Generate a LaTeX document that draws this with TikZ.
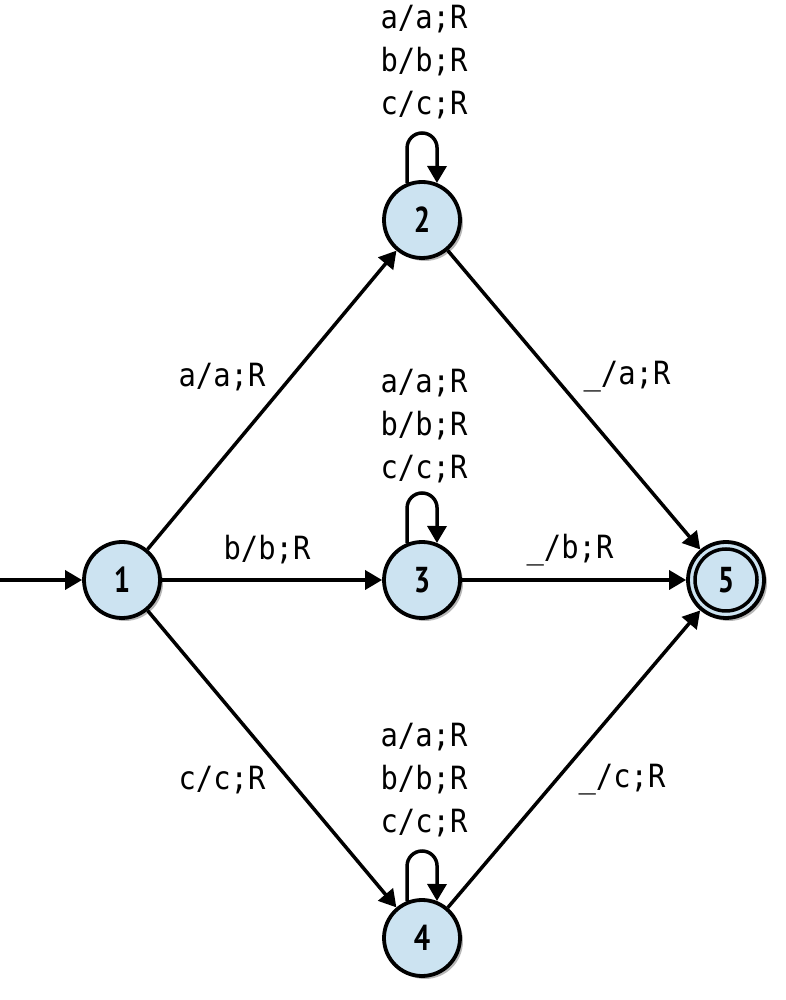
\documentclass[tikz,border=0pt]{standalone}
\usepackage{fontspec}
\usetikzlibrary{arrows.meta,shadows}
\newfontfamily\lblfont[FakeStretch=0.9]{DejaVu Sans Mono}
\newfontfamily\numfont[FakeStretch=0.8]{PT Sans}
\definecolor{statefill}{RGB}{204,227,241}
\begin{document}
\begin{tikzpicture}[x=1pt,y=1pt,
  state/.style={circle,draw=black,line width=3.8pt,fill=statefill,minimum size=76pt,inner sep=0pt,
    font=\numfont\bfseries\fontsize{36}{36}\selectfont,
    drop shadow={shadow xshift=3pt,shadow yshift=-3pt,opacity=0.4,fill=black!70}},
  edge/.style={line width=3.5pt,-{Triangle[length=17pt,width=19pt]}},
  lbl/.style={font=\lblfont\fontsize{32}{43}\selectfont,align=center,inner sep=0pt}]
\useasboundingbox (0,0) rectangle (786,1000);
\node[state] (n1) at (122,420) {1};
\node[state] (n2) at (422,780) {2};
\node[state] (n3) at (422,420) {3};
\node[state] (n4) at (422,62) {4};
\node[state] (n5) at (726,420) {5};
\draw[line width=3.5pt] (n5.center) circle[radius=31];
\coordinate (start) at (0,420);
\draw[edge] (start) -- (n1);
\draw[edge] (n1) -- (n2);
\draw[edge] (n1) -- (n3);
\draw[edge] (n1) -- (n4);
\draw[edge] (n2) -- (n5);
\draw[edge] (n3) -- (n5);
\draw[edge] (n4) -- (n5);
\draw[edge] (n2.112) -- ++(0,35) arc[start angle=180,end angle=0,radius=15] -- (n2.68);
\draw[edge] (n3.112) -- ++(0,35) arc[start angle=180,end angle=0,radius=15] -- (n3.68);
\draw[edge] (n4.112) -- ++(0,35) arc[start angle=180,end angle=0,radius=15] -- (n4.68);
\node[lbl] (l2) at (424,938) {a/a;R\\b/b;R\\c/c;R};
\node[lbl] (l3) at (424,574) {a/a;R\\b/b;R\\c/c;R};
\node[lbl] (l4) at (424,220) {a/a;R\\b/b;R\\c/c;R};
\node[lbl] (l12) at (222,623) {a/a;R};
\node[lbl] (l13) at (267,450) {b/b;R};
\node[lbl] (l14) at (222,220) {c/c;R};
\node[lbl] (l25) at (627,623) {\_/a;R};
\node[lbl] (l35) at (570,450) {\_/b;R};
\node[lbl] (l45) at (622,220) {\_/c;R};
\end{tikzpicture}
\end{document}
